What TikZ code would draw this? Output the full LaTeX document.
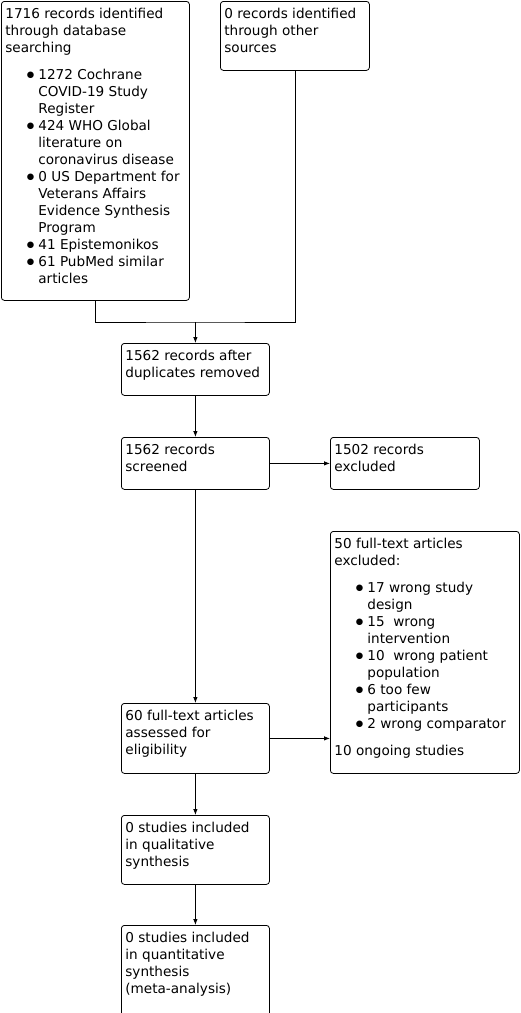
\documentclass[tikz,border=0pt]{standalone}
\usepackage{fontspec}
\setmainfont{DejaVu Sans}
\usetikzlibrary{arrows.meta}

% Textblock oben links im Kasten
\newcommand{\boxtext}[3]{\parbox[t][\dimexpr#2pt-10pt\relax][t]{\dimexpr#1pt-8pt\relax}{\strut#3}}
\newcommand{\itm}{\hspace*{33pt}\llap{\raisebox{1.5pt}{\fontsize{8.5}{8.5}\selectfont ●}\hspace{4pt}}}
\newcommand{\ind}{\hspace*{33pt}}

\begin{document}
\begin{tikzpicture}[x=1pt, y=-1pt,
    box/.style={draw, line width=0.8pt, rounded corners=3pt, anchor=north west,
        inner xsep=4pt, inner ysep=5pt, font=\fontsize{13.6}{17}\selectfont},
    arr/.style={line width=0.8pt, -{Latex[length=6pt,width=4.5pt]}},
    line/.style={line width=0.8pt}]
    \useasboundingbox (0,0) rectangle (521,1013);

    % Identifikation
    \node[box] (db) at (1,1) {\boxtext{188}{299}{1716 records identified\\
        through database\\ searching\\[10pt]
        \itm 1272 Cochrane\\ \ind COVID-19 Study\\ \ind Register\\
        \itm 424 WHO Global\\ \ind literature on\\ \ind coronavirus disease\\
        \itm 0 US Department for\\ \ind Veterans Affairs\\ \ind Evidence Synthesis\\ \ind Program\\
        \itm 41 Epistemonikos\\
        \itm 61 PubMed similar\\ \ind articles}};
    \node[box] (other) at (220,1) {\boxtext{149}{69}{0 records identified\\ through other\\ sources}};

    % Screening
    \node[box] (dup) at (121,343) {\boxtext{148}{52}{1562 records after\\ duplicates removed}};
    \node[box] (screen) at (121,437) {\boxtext{148}{52}{1562 records\\ screened}};
    \node[box] (excl) at (330,437) {\boxtext{149}{52}{1502 records\\ excluded}};

    % Eignung
    \node[box] (full) at (121,703) {\boxtext{148}{70}{60 full-text articles\\ assessed for\\ eligibility}};
    \node[box] (fullex) at (330,531) {\boxtext{189}{242}{50 full-text articles\\ excluded:\\[10pt]
        \itm 17 wrong study\\ \ind design\\
        \itm 15\ \ wrong\\ \ind intervention\\
        \itm 10\ \ wrong patient\\ \ind population\\
        \itm 6 too few\\ \ind participants\\
        \itm 2 wrong comparator\\[10pt]
        10 ongoing studies}};

    % Eingeschlossen
    \node[box] (qual) at (121,815) {\boxtext{148}{69}{0 studies included\\ in qualitative\\ synthesis}};
    \node[box] (quant) at (121,925) {\boxtext{148}{96}{0 studies included\\ in quantitative\\ synthesis\\ (meta-analysis)}};

    % Verbindungen
    \coordinate (merge) at (dup.north |- 0,322);
    \draw[line] (db.south) |- (merge) -| (other.south);
    \draw[arr] (merge) -- (dup.north);
    \draw[arr] (dup) -- (screen);
    \draw[arr] (screen) -- (excl);
    \draw[arr] (screen) -- (full);
    \draw[arr] (full.east) -- (full.east -| fullex.west);
    \draw[arr] (full) -- (qual);
    \draw[arr] (qual) -- (quant);
\end{tikzpicture}
\end{document}
